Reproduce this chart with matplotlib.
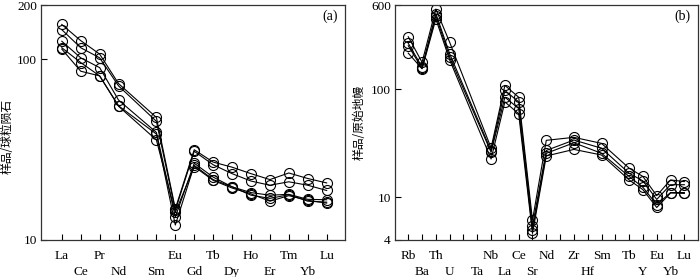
import matplotlib.pyplot as plt
from matplotlib.ticker import NullLocator, FixedLocator

plt.rcParams['font.family'] = ['Liberation Serif', 'Noto Sans CJK SC']

# (a) chondrite-normalised REE
ree_labels = ['La', 'Ce', 'Pr', 'Nd', '', 'Sm', 'Eu', 'Gd', 'Tb', 'Dy', 'Ho', 'Er', 'Tm', 'Yb', 'Lu']
ree_pos = [0, 1, 2, 3, 5, 6, 7, 8, 9, 10, 11, 12, 13, 14]
ree_1 = [156, 127, 107, 73.4, 47.7, 14.9, 31.6, 27.0, 25.3, 23.3, 21.6, 23.5, 21.9, 20.7]
ree_2 = [146, 116, 102, 71.3, 45.4, 14.6, 31.0, 26.1, 23.3, 21.2, 20.1, 21.0, 20.1, 18.8]
ree_3 = [126, 102, 90, 59.5, 39.4, 13.4, 26.6, 22.3, 19.7, 18.3, 17.7, 17.9, 16.8, 16.7]
ree_4 = [116, 96, 81, 55.3, 38.6, 12.1, 25.9, 21.6, 19.7, 17.7, 17.0, 17.8, 16.4, 16.2]
ree_5 = [114, 86, 81, 55.0, 35.8, 14.2, 25.5, 21.4, 19.4, 18.0, 16.4, 17.6, 16.6, 16.0]

# (b) primitive-mantle-normalised spider
tr_labels = ['Rb', 'Ba', 'Th', 'U', '', 'Ta', 'Nb', 'La', 'Ce', 'Sr', 'Nd', '', 'Zr', 'Hf', 'Sm', '',
             'Tb', 'Y', 'Eu', 'Yb', 'Lu']
tr_pos = [0, 1, 2, 3, 6, 7, 8, 9, 10, 12, 14, 16, 17, 18, 19, 20]
tr_1 = [305, 177, 550, 271, 28.5, 108, 84, 6.1, 33.5, 35.7, 31.4, 18.5, 15.5, 10.3, 14.4, 13.9]
tr_2 = [265, 160, 500, 212, 26.9, 97, 76, 5.4, 27.0, 33.7, 28.3, 16.6, 14.1, 9.5, 13.0, 13.0]
tr_3 = [252, 155, 477, 197, 26.0, 84, 66, 4.9, 25.4, 31.8, 25.4, 15.5, 12.3, 8.5, 11.0, 11.0]
tr_4 = [215, 154, 445, 186, 22.5, 76, 59, 4.6, 24.0, 27.6, 24.5, 14.4, 11.7, 8.0, 10.9, 10.8]

fig = plt.figure(figsize=(7, 2.77), dpi=100)
ax1 = fig.add_axes([41/700, 1-240/277, 304/700, 235/277])
ax2 = fig.add_axes([395/700, 1-240/277, 303/700, 235/277])


def style(ax, labels, yticks, ylim, xlim, ylabel, tag, lab_xy):
    ax.set_yscale('log')
    ax.set_ylim(*ylim)
    ax.set_xlim(*xlim)
    ax.yaxis.set_major_locator(FixedLocator(yticks))
    ax.yaxis.set_minor_locator(NullLocator())
    ax.set_yticklabels([str(t) for t in yticks])
    ax.set_xticks(range(len(labels)))
    ax.set_xticklabels(labels)
    ax.tick_params(direction='in', length=4, width=0.8, labelsize=9.5, pad=3)
    ax.tick_params(axis='x', top=False)
    for i, t in enumerate(ax.xaxis.get_major_ticks()):
        t.set_pad(7.5 if i % 2 == 0 else 18.5)
    for s in ax.spines.values():
        s.set_linewidth(0.9)
        s.set_color('#333333')
    ax.set_ylabel(ylabel, fontsize=8.5, family=['Noto Sans CJK SC'])
    ax.yaxis.set_label_coords(*lab_xy)
    ax.text(0.95, 0.95, tag, transform=ax.transAxes, ha='center', va='center', fontsize=10)


for ys in [ree_1, ree_2, ree_3, ree_4, ree_5]:
    ax1.plot(ree_pos, ys, color='black', lw=0.8, marker='o', ms=7.2, mfc='none', mec='black', mew=0.8)
style(ax1, ree_labels, [10, 100, 200], (10, 200), (-1.1, 14.97), '样品/球粒陨石', '(a)', (-0.09, 0.44))

for ys in [tr_1, tr_2, tr_3, tr_4]:
    ax2.plot(tr_pos, ys, color='black', lw=0.8, marker='o', ms=7.2, mfc='none', mec='black', mew=0.8)
style(ax2, tr_labels, [4, 10, 100, 600], (4, 600), (-0.96, 20.99), '样品/原始地幔', '(b)', (-0.098, 0.5))

fig.savefig('out.png', dpi=100)
